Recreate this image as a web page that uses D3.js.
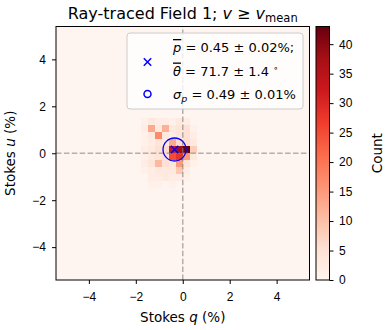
<!DOCTYPE html>
<meta charset="utf-8">
<style type="text/css">
body { margin: 0; background: #fff; }
svg { font-family: "DejaVu Sans", sans-serif; }
.axis .domain { display: none; }
.axis .tick line { stroke: #000; }
.axis .tick text { font-size: 12px; fill: #000; }
.cell { shape-rendering: crispEdges; }
</style>
<body>
    <div id="chart"></div>
</body>
<script src="https://d3js.org/d3.v7.min.js"></script>
<script>

// histogram bins (lower edges, in %), bin width 0.3
var binWidth = 0.3;
var qBins = [-1.8, -1.5, -1.2, -0.9, -0.6, -0.3, 0.0, 0.3];
var uBins = [1.2, 0.9, 0.6, 0.3, 0.0, -0.3, -0.6, -0.9, -1.2, -1.5];

// counts per cell, one row per u bin (top to bottom), one column per q bin
var counts = [
    [1, 3, 2, 2, 1, 3, 2, 0],
    [2, 13, 3, 12, 3, 4, 5, 1],
    [1, 3, 17, 3, 2, 4, 5, 2],
    [1, 2, 4, 3, 13, 6, 6, 3],
    [2, 3, 5, 6, 33, 38, 43, 8],
    [1, 3, 4, 5, 25, 28, 15, 3],
    [2, 4, 11, 5, 4, 15, 4, 1],
    [1, 2, 3, 3, 3, 9, 2, 0],
    [0, 2, 2, 3, 2, 2, 1, 0],
    [0, 1, 1, 0, 1, 0, 0, 0]
];

// mean polarisation point and spread
var meanQ = -0.35, meanU = 0.16;
var sigmaP = 0.49;

var axisExtent = [-5.4, 5.4];
var axisTicks = [-4, -2, 0, 2, 4];
var countMax = 43;
var countTicks = [0, 5, 10, 15, 20, 25, 30, 35, 40];

// matplotlib "Reds"
var reds = ["#fff5f0", "#fee0d2", "#fcbba1", "#fc9272", "#fb6a4a", "#ef3b2c", "#cb181d", "#a50f15", "#67000d"];

var W = 389, H = 330;
var pLeft = 56, pRight = 309.5, pTop = 26.5, pBottom = 280;

var svg = d3.select("#chart").append("svg")
    .attr("width", W)
    .attr("height", H);

var x = d3.scaleLinear().domain(axisExtent).range([pLeft, pRight]);
var y = d3.scaleLinear().domain(axisExtent).range([pBottom, pTop]);

var color = d3.scaleLinear()
    .domain(reds.map(function(d, i) { return i / (reds.length - 1) * countMax; }))
    .range(reds)
    .interpolate(d3.interpolateRgb);

// zero-count background
svg.append("rect")
    .attr("x", x(axisExtent[0]))
    .attr("y", y(axisExtent[1]))
    .attr("width", x(axisExtent[1]) - x(axisExtent[0]))
    .attr("height", y(axisExtent[0]) - y(axisExtent[1]))
    .attr("fill", color(0));

var cells = [];
uBins.forEach(function(u, i) {
    qBins.forEach(function(q, j) {
        if (counts[i][j] > 0) cells.push({q: q, u: u, n: counts[i][j]});
    });
});

svg.append("g").selectAll("rect")
    .data(cells)
  .enter().append("rect")
    .attr("class", "cell")
    .attr("x", function(d) { return x(d.q); })
    .attr("y", function(d) { return y(d.u + binWidth); })
    .attr("width", function(d) { return x(d.q + binWidth) - x(d.q); })
    .attr("height", function(d) { return y(d.u) - y(d.u + binWidth); })
    .attr("fill", function(d) { return color(d.n); });

// dashed zero lines
var zl = svg.append("g")
    .attr("stroke", "#808080")
    .attr("stroke-opacity", 0.6)
    .attr("stroke-width", 1.5)
    .attr("stroke-dasharray", "5.5,2.4");
zl.append("line")
    .attr("x1", x(0)).attr("x2", x(0))
    .attr("y1", y(axisExtent[0])).attr("y2", y(axisExtent[1]));
zl.append("line")
    .attr("x1", x(axisExtent[0])).attr("x2", x(axisExtent[1]))
    .attr("y1", y(0)).attr("y2", y(0));

// sigma circle and mean marker
svg.append("circle")
    .attr("cx", x(meanQ))
    .attr("cy", y(meanU))
    .attr("r", x(sigmaP) - x(0))
    .attr("fill", "none")
    .attr("stroke", "#0000ff")
    .attr("stroke-width", 1.3);

var xMark = "M-3.7,-3.7L3.7,3.7M-3.7,3.7L3.7,-3.7";
svg.append("path")
    .attr("d", xMark)
    .attr("transform", "translate(" + x(meanQ) + "," + y(meanU) + ")")
    .attr("stroke", "#0000ff")
    .attr("stroke-width", 1.5)
    .attr("fill", "none");

// frame
svg.append("rect")
    .attr("x", pLeft).attr("y", pTop)
    .attr("width", pRight - pLeft).attr("height", pBottom - pTop)
    .attr("fill", "none")
    .attr("stroke", "#000")
    .attr("stroke-width", 1);

// axes
svg.append("g")
    .attr("class", "axis")
    .attr("transform", "translate(0," + pBottom + ")")
    .call(d3.axisBottom(x).tickValues(axisTicks).tickSize(4).tickPadding(8.5));

svg.append("g")
    .attr("class", "axis")
    .attr("transform", "translate(" + pLeft + ",0)")
    .call(d3.axisLeft(y).tickValues(axisTicks).tickSize(4).tickPadding(6));

svg.append("text")
    .attr("x", (pLeft + pRight) / 2)
    .attr("y", 321.5)
    .attr("text-anchor", "middle")
    .style("font-size", "13.5px")
    .html('Stokes <tspan font-style="italic">q</tspan> (%)');

svg.append("text")
    .attr("transform", "translate(15," + (pTop + pBottom) / 2 + ") rotate(-90)")
    .attr("text-anchor", "middle")
    .style("font-size", "13.5px")
    .html('Stokes <tspan font-style="italic">u</tspan> (%)');

// title
svg.append("text")
    .attr("x", (pLeft + pRight) / 2)
    .attr("y", 18.5)
    .attr("text-anchor", "middle")
    .style("font-size", "16px")
    .html('Ray-traced Field 1; <tspan font-style="italic">v</tspan> ≥ <tspan font-style="italic">v</tspan><tspan font-size="11.5px" dy="3">mean</tspan>');

// legend
var lg = svg.append("g");
lg.append("rect")
    .attr("x", 127).attr("y", 33)
    .attr("width", 176).attr("height", 76)
    .attr("rx", 3)
    .attr("fill", "#fff")
    .attr("fill-opacity", 0.8)
    .attr("stroke", "#cccccc")
    .attr("stroke-width", 1);
lg.append("path")
    .attr("d", xMark)
    .attr("transform", "translate(147.5,62)")
    .attr("stroke", "#0000ff")
    .attr("stroke-width", 1.5)
    .attr("fill", "none");
lg.append("circle")
    .attr("cx", 147.5).attr("cy", 94)
    .attr("r", 3.5)
    .attr("fill", "none")
    .attr("stroke", "#0000ff")
    .attr("stroke-width", 1.5);

var lt = lg.append("g").style("font-size", "13px");
lt.append("text").attr("x", 173).attr("y", 52)
    .html('<tspan font-style="italic" text-decoration="overline">p</tspan> = 0.45 ± 0.02%;');
lt.append("text").attr("x", 173).attr("y", 75.5)
    .html('<tspan font-style="italic" text-decoration="overline">θ</tspan> = 71.7 ± 1.4 <tspan font-size="9px" dy="-5">∘</tspan>');
lt.append("text").attr("x", 173).attr("y", 98.5)
    .html('<tspan font-style="italic">σ</tspan><tspan font-style="italic" font-size="9.5px" dy="3">p</tspan><tspan dy="-3"> = 0.49 ± 0.01%</tspan>');

// colorbar
var cbLeft = 316, cbRight = 329.5;
var cy = d3.scaleLinear().domain([0, countMax]).range([pBottom, pTop]);

var grad = svg.append("defs").append("linearGradient")
    .attr("id", "redsGrad")
    .attr("x1", 0).attr("y1", 1).attr("x2", 0).attr("y2", 0);
grad.selectAll("stop")
    .data(reds)
  .enter().append("stop")
    .attr("offset", function(d, i) { return i / (reds.length - 1); })
    .attr("stop-color", function(d) { return d; });

svg.append("rect")
    .attr("x", cbLeft).attr("y", pTop)
    .attr("width", cbRight - cbLeft).attr("height", pBottom - pTop)
    .attr("fill", "url(#redsGrad)")
    .attr("stroke", "#000")
    .attr("stroke-width", 1);

svg.append("g")
    .attr("class", "axis")
    .attr("transform", "translate(" + cbRight + ",0)")
    .call(d3.axisRight(cy).tickValues(countTicks).tickSize(4).tickPadding(5.5));

svg.append("text")
    .attr("transform", "translate(382," + (pTop + pBottom) / 2 + ") rotate(-90)")
    .attr("text-anchor", "middle")
    .style("font-size", "13.5px")
    .text("Count");

</script>
